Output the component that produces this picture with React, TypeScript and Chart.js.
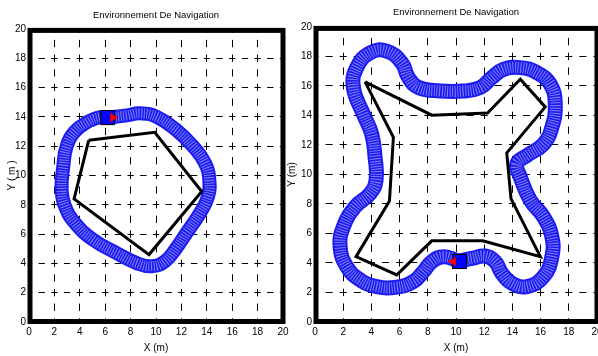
import React, { useEffect, useRef } from "react";
import { Chart, registerables } from "chart.js";

Chart.register(...registerables);

// ---------- Data ----------
const TITLE = "Environnement De Navigation";
const X_LABEL = "X (m)";
const Y_LABEL_LEFT = "Y ( m )";
const Y_LABEL_RIGHT = "Y (m)";
const AXIS_TICKS = [0, 2, 4, 6, 8, 10, 12, 14, 16, 18, 20];

// Left environment: obstacle polygon
const leftObstacleX = [4.7, 9.9, 13.6, 9.45, 3.55, 4.7];
const leftObstacleY = [12.4, 12.95, 8.9, 4.6, 8.4, 12.4];
// Left environment: robot trajectory
const leftPathX = [6.2, 7.7, 8.74, 10.05, 11.6, 12.9, 13.86, 14.2, 14.1, 13.46, 12.4, 11.6, 10.7, 9.66, 8.48, 6.9, 5.07, 3.62, 2.83, 2.57, 2.7, 2.97, 3.62, 4.67, 5.6, 6.2];
const leftPathY = [13.95, 14.1, 14.25, 14.0, 13.1, 12.0, 10.84, 9.7, 8.57, 7.43, 6.07, 5.05, 4.14, 3.8, 4.02, 4.7, 5.6, 6.75, 7.9, 9.0, 10.6, 12.0, 13.0, 13.68, 13.98, 13.95];
// Left environment: robot body and heading marker
const leftRobotX = [6.2];
const leftRobotY = [13.95];
const leftHeadX = [6.6];
const leftHeadY = [13.95];

// Right environment: obstacle polygon
const rightObstacleX = [3.55, 8.28, 12.24, 14.56, 16.33, 13.6, 13.9, 15.98, 11.9, 8.28, 5.8, 2.91, 5.28, 5.56, 3.55];
const rightObstacleY = [16.27, 14.02, 14.16, 16.45, 14.58, 11.46, 8.36, 4.43, 5.5, 5.5, 3.19, 4.43, 8.2, 12.52, 16.27];
// Right environment: robot trajectory
const rightPathX = [10.18, 9.11, 8.28, 7.69, 6.98, 5.8, 4.38, 3.2, 2.25, 1.78, 2.01, 2.84, 3.9, 4.33, 4.26, 4.02, 3.43, 2.72, 2.96, 3.91, 5.09, 6.15, 6.63, 7.34, 8.88, 10.53, 11.72, 12.54, 13.37, 14.56, 15.74, 16.69, 17.04, 16.8, 16.21, 15.03, 14.32, 14.56, 15.27, 16.21, 16.8, 16.8, 16.21, 15.03, 13.96, 13.25, 12.78, 12.07, 11.12, 10.18];
const rightPathY = [4.13, 4.43, 4.09, 3.42, 2.74, 2.36, 2.4, 2.85, 3.75, 5.1, 6.45, 7.8, 8.7, 9.6, 11.17, 12.74, 14.09, 15.89, 17.24, 18.25, 18.36, 17.57, 16.56, 15.89, 15.66, 15.66, 15.89, 16.56, 17.12, 17.24, 16.9, 16.11, 14.76, 13.19, 12.07, 11.28, 10.72, 9.82, 8.25, 7.12, 5.78, 4.43, 3.08, 2.4, 2.63, 3.3, 4.09, 4.47, 4.31, 4.13];
// Right environment: robot body and heading marker
const rightRobotX = [10.25];
const rightRobotY = [4.1];
const rightHeadX = [9.8];
const rightHeadY = [4.1];

// ---------- Helpers ----------
const FONT = "'Liberation Sans Narrow', 'Arial Narrow', 'Liberation Sans', Arial, sans-serif";
const toPts = (xs: number[], ys: number[]) => xs.map((x, i) => ({ x, y: ys[i] }));

const framePlugin = {
  id: "frame",
  afterDraw(chart: any) {
    const { ctx, chartArea } = chart;
    const { left, top, right, bottom } = chartArea;
    ctx.save();
    ctx.lineWidth = 5;
    ctx.strokeStyle = "#000";
    ctx.strokeRect(left + 1, top + 1.5, right - left - 1, bottom - top - 2);
    ctx.restore();
  },
};

type Cfg = {
  obsX: number[]; obsY: number[];
  pathX: number[]; pathY: number[];
  robX: number[]; robY: number[];
  headX: number[]; headY: number[];
  headRot: number;
  yLabel: string;
  width: number; height: number;
  yAxisW: number; xAxisH: number; padRight: number;
  titlePadTop: number; titlePadBottom: number;
  yTitlePad: number;
  pxX: number; pxY: number;
  ringW: number;
};

function buildConfig(c: Cfg): any {
  const dashX = c.pxY / 2; // vertical grid lines (x scale) run along y
  const dashY = c.pxX / 2;
  return {
    type: "scatter",
    data: {
      datasets: [
        {
          label: "head",
          data: toPts(c.headX, c.headY),
          pointStyle: "triangle",
          rotation: c.headRot,
          pointRadius: 5,
          backgroundColor: "#ff0000",
          borderColor: "#cc0000",
          borderWidth: 0.5,
          order: 0,
        },
        {
          label: "robot",
          data: toPts(c.robX, c.robY),
          pointStyle: "rect",
          pointRadius: 10,
          backgroundColor: "#0000ff",
          borderColor: "#000000",
          borderWidth: 1,
          order: 1,
        },
        {
          label: "obstacle",
          type: "line",
          data: toPts(c.obsX, c.obsY),
          borderColor: "#000000",
          borderWidth: 3,
          pointRadius: 0,
          tension: 0,
          fill: false,
          order: 2,
        },
        {
          label: "hatch",
          type: "line",
          data: toPts(c.pathX, c.pathY),
          borderColor: "rgba(225,225,255,0.5)",
          borderWidth: c.ringW - 4,
          borderDash: [1, 1.6],
          pointRadius: 0,
          tension: 0.45,
          fill: false,
          order: 3,
        },
        {
          label: "path",
          type: "line",
          data: toPts(c.pathX, c.pathY),
          borderColor: "rgb(28,28,240)",
          borderWidth: c.ringW,
          pointRadius: 0,
          tension: 0.45,
          fill: false,
          order: 4,
        },
      ],
    },
    options: {
      responsive: false,
      animation: false,
      devicePixelRatio: 1,
      layout: { padding: { left: 0, right: c.padRight, top: 0, bottom: 0 } },
      plugins: {
        legend: { display: false },
        tooltip: { enabled: false },
        title: {
          display: true,
          fullSize: false,
          text: TITLE,
          color: "#000",
          font: { family: FONT, size: 9.5, weight: "normal" },
          padding: { top: c.titlePadTop, bottom: c.titlePadBottom },
        },
      },
      scales: {
        x: {
          type: "linear",
          min: 0,
          max: 20,
          afterBuildTicks: (s: any) => { s.ticks = AXIS_TICKS.map((v) => ({ value: v })); },
          afterFit: (s: any) => { s.height = c.xAxisH; },
          ticks: { color: "#000", font: { family: FONT, size: 10 }, padding: 4, maxRotation: 0, autoSkip: false },
          grid: { color: "#000", lineWidth: 1, drawTicks: false },
          border: { display: false, dash: [dashX, dashX], dashOffset: dashX / 2 },
          title: { display: true, text: X_LABEL, color: "#000", font: { family: FONT, size: 10 }, padding: { top: 0, bottom: 2 } },
        },
        y: {
          type: "linear",
          min: 0,
          max: 20,
          afterBuildTicks: (s: any) => { s.ticks = AXIS_TICKS.map((v) => ({ value: v })); },
          afterFit: (s: any) => { s.width = c.yAxisW; },
          ticks: { color: "#000", font: { family: FONT, size: 10 }, padding: 3, autoSkip: false },
          grid: { color: "#000", lineWidth: 1, drawTicks: false },
          border: { display: false, dash: [dashY, dashY], dashOffset: dashY / 2 },
          title: { display: true, text: c.yLabel, color: "#000", font: { family: FONT, size: 10 }, padding: { top: c.yTitlePad, bottom: 0 } },
        },
      },
    },
    plugins: [framePlugin],
  };
}

function EnvChart({ cfg, left }: { cfg: Cfg; left: number }) {
  const ref = useRef<HTMLCanvasElement>(null);
  useEffect(() => {
    const chart = new Chart(ref.current as HTMLCanvasElement, buildConfig(cfg));
    return () => chart.destroy();
  }, []);
  return (
    <div style={{ position: "absolute", left, top: 0, width: cfg.width, height: cfg.height }}>
      <canvas ref={ref} width={cfg.width} height={cfg.height} style={{ width: cfg.width, height: cfg.height, display: "block" }} />
    </div>
  );
}

const leftCfg: Cfg = {
  obsX: leftObstacleX, obsY: leftObstacleY,
  pathX: leftPathX, pathY: leftPathY,
  robX: leftRobotX, robY: leftRobotY,
  headX: leftHeadX, headY: leftHeadY,
  headRot: 90,
  yLabel: Y_LABEL_LEFT,
  width: 300, height: 356,
  yAxisW: 29, xAxisH: 34, padRight: 17,
  titlePadTop: 9.5, titlePadBottom: 8,
  yTitlePad: 6.5,
  pxX: 254 / 20, pxY: 293 / 20,
  ringW: 14,
};

const rightCfg: Cfg = {
  obsX: rightObstacleX, obsY: rightObstacleY,
  pathX: rightPathX, pathY: rightPathY,
  robX: rightRobotX, robY: rightRobotY,
  headX: rightHeadX, headY: rightHeadY,
  headRot: -90,
  yLabel: Y_LABEL_RIGHT,
  width: 340, height: 356,
  yAxisW: 34, xAxisH: 34, padRight: 24,
  titlePadTop: 7, titlePadBottom: 8.5,
  yTitlePad: 5.5,
  pxX: 282 / 20, pxY: 295 / 20,
  ringW: 15,
};

export default function App() {
  return (
    <div style={{ position: "fixed", left: 0, top: 0, width: 598, height: 356, overflow: "hidden", background: "#fff" }}>
      <EnvChart cfg={leftCfg} left={0} />
      <EnvChart cfg={rightCfg} left={281} />
    </div>
  );
}
